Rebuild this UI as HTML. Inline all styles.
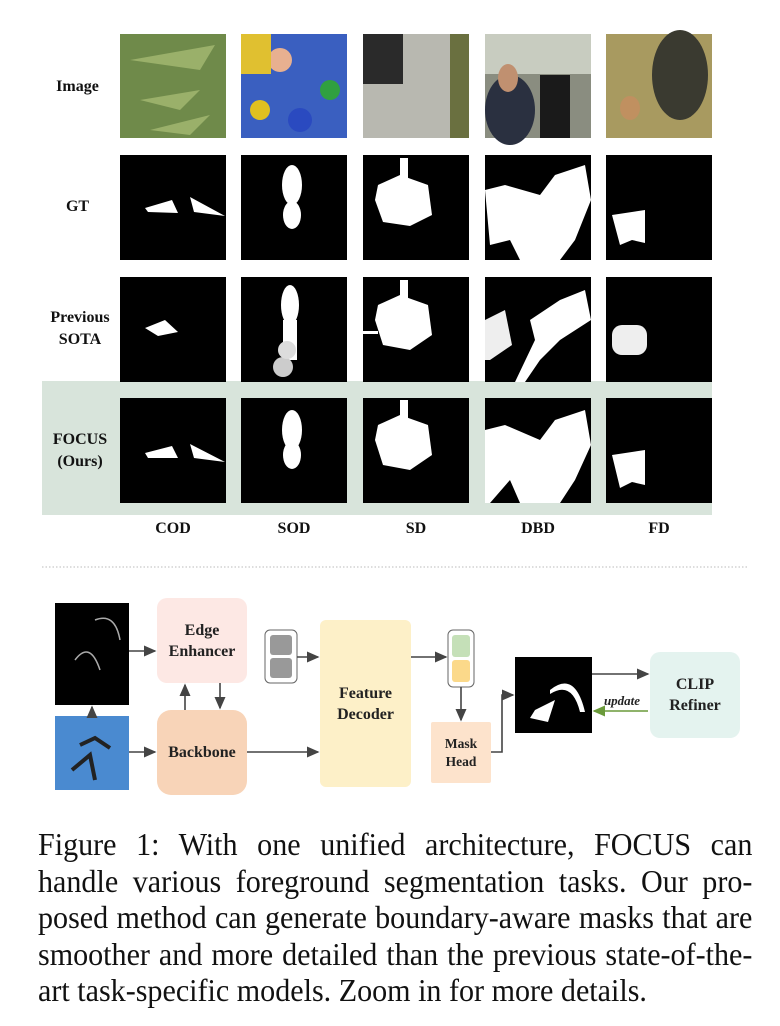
<!DOCTYPE html>
<html><head><meta charset="utf-8"><style>
body{margin:0;background:#fff;width:780px;height:1026px;position:relative;overflow:hidden;font-family:"Liberation Serif",serif}
.a{position:absolute}
.lbl{position:absolute;font-weight:bold;font-size:16px;text-align:center;color:#111;line-height:22px}
.bx{position:absolute;display:flex;align-items:center;justify-content:center;text-align:center;font-weight:bold;font-size:16px;line-height:21px;color:#222;border-radius:10px}
.cap{position:absolute;left:38px;top:826px;width:760px;transform:scaleX(0.94);transform-origin:0 0;font-size:32px;line-height:36.5px;color:#111}
.cap div{text-align:justify;text-align-last:justify;height:36.5px;white-space:nowrap}
.cap div.l{text-align-last:left}
</style></head><body>
<div class="a" style="left:42px;top:381px;width:670px;height:134px;background:#d8e4db"></div>
<div class="lbl" style="left:40px;top:76px;width:75px">Image</div>
<div class="lbl" style="left:40px;top:196px;width:75px">GT</div>
<div class="lbl" style="left:40px;top:307px;width:80px">Previous<br>SOTA</div>
<div class="lbl" style="left:40px;top:429px;width:80px">FOCUS<br>(Ours)</div>
<svg class="a" style="left:0;top:0" width="780" height="1026">
<defs><marker id="ar" markerWidth="8" markerHeight="8" refX="7" refY="4" orient="auto"><path d="M0,0.5 L8,4 L0,7.5 z" fill="#444"/></marker>
<marker id="ag" markerWidth="8" markerHeight="8" refX="7" refY="4" orient="auto"><path d="M0,0.5 L8,4 L0,7.5 z" fill="#6a9a3a"/></marker></defs>
<rect x="120" y="34" width="106" height="104" fill="#6f8a4a"/>
<path d="M130,60 L215,45 L200,70Z M140,100 L200,90 L180,110Z M150,130 L210,115 L190,135Z" fill="#9ab06a"/>
<rect x="241" y="34" width="106" height="104" fill="#3a5fc0"/>
<circle cx="260" cy="110" r="10" fill="#e0c020"/><circle cx="300" cy="120" r="12" fill="#2a4ac0"/><circle cx="330" cy="90" r="10" fill="#30a040"/><circle cx="280" cy="60" r="12" fill="#e8b090"/><rect x="241" y="34" width="30" height="40" fill="#e0c030"/>
<rect x="363" y="34" width="106" height="104" fill="#b8b8b0"/><rect x="363" y="34" width="40" height="50" fill="#2a2a2a"/><rect x="450" y="34" width="19" height="104" fill="#6a7040"/>
<rect x="485" y="34" width="106" height="104" fill="#8a8d80"/><rect x="485" y="34" width="106" height="40" fill="#c8ccc0"/><ellipse cx="510" cy="110" rx="25" ry="35" fill="#2a3040"/><rect x="540" y="75" width="30" height="63" fill="#1a1a1a"/><ellipse cx="508" cy="78" rx="10" ry="14" fill="#c09070"/>
<rect x="606" y="34" width="106" height="104" fill="#a89a60"/><ellipse cx="680" cy="75" rx="28" ry="45" fill="#3a3a30"/><ellipse cx="630" cy="108" rx="10" ry="12" fill="#c09060"/>
<g fill="#000">
<rect x="120" y="155" width="106" height="105"/><rect x="241" y="155" width="106" height="105"/><rect x="363" y="155" width="106" height="105"/><rect x="485" y="155" width="106" height="105"/><rect x="606" y="155" width="106" height="105"/>
<rect x="120" y="277" width="106" height="105"/><rect x="241" y="277" width="106" height="105"/><rect x="363" y="277" width="106" height="105"/><rect x="485" y="277" width="106" height="105"/><rect x="606" y="277" width="106" height="105"/>
<rect x="120" y="398" width="106" height="105"/><rect x="241" y="398" width="106" height="105"/><rect x="363" y="398" width="106" height="105"/><rect x="485" y="398" width="106" height="105"/><rect x="606" y="398" width="106" height="105"/>
</g>
<g fill="#fff">
<path d="M145,208 L172,200 L178,213 L148,212Z M190,197 L225,216 L194,212Z"/>
<ellipse cx="292" cy="185" rx="10" ry="20"/><ellipse cx="292" cy="215" rx="9" ry="14"/>
<path d="M378,185 L400,175 L428,185 L432,215 L410,226 L383,222 L375,200Z"/><rect x="400" y="158" width="8" height="20"/>
<path d="M485,190 L505,185 L540,195 L555,175 L585,165 L591,200 L575,240 L560,260 L520,260 L510,240 L490,245Z"/>
<path d="M612,215 L645,210 L645,243 L632,240 L620,245Z"/>
<path d="M145,328 L165,320 L178,332 L158,336Z"/>
<ellipse cx="290" cy="305" rx="9" ry="20"/><rect x="283" y="320" width="14" height="40"/><circle cx="283" cy="367" r="10" fill="#ccc"/><circle cx="287" cy="350" r="9" fill="#ddd"/>
<path d="M378,305 L400,295 L428,305 L432,335 L410,350 L383,345 L375,320Z"/><rect x="400" y="280" width="8" height="20"/><rect x="363" y="331" width="15" height="3"/>
<path d="M485,320 L505,310 L512,345 L490,360 L485,360Z" fill="#eee"/><path d="M530,320 L560,300 L585,290 L591,320 L560,340 L540,360 L525,382 L515,382 L535,340Z"/>
<rect x="612" y="325" width="35" height="30" rx="10" fill="#eee"/>
<path d="M145,453 L172,446 L178,458 L148,458Z M190,444 L225,462 L194,458Z"/>
<ellipse cx="292" cy="430" rx="10" ry="20"/><ellipse cx="292" cy="455" rx="9" ry="14"/>
<path d="M378,425 L400,415 L428,425 L432,455 L410,470 L383,465 L375,440Z"/><rect x="400" y="400" width="8" height="20"/>
<path d="M485,430 L505,425 L540,440 L555,420 L585,410 L591,445 L575,480 L560,503 L520,503 L510,480 L490,503 L485,503Z"/>
<path d="M612,455 L645,450 L645,485 L632,482 L620,488Z"/>
</g>
<line x1="42" y1="567" x2="748" y2="567" stroke="#bbb" stroke-dasharray="1.5,2"/>
<rect x="55" y="603" width="74" height="102" fill="#000"/>
<path d="M75,660 Q90,640 100,670 M95,620 Q115,612 120,640" stroke="#aaa" fill="none" stroke-width="1.5"/>
<rect x="55" y="716" width="74" height="74" fill="#4a8ad0"/>
<path d="M80,745 L95,738 L110,748 M72,770 L90,755 L95,780" stroke="#222" stroke-width="4" fill="none"/>
<rect x="265" y="630" width="32" height="53" rx="5" fill="#fff" stroke="#666"/>
<rect x="270" y="635" width="22" height="20" rx="3" fill="#999"/><rect x="270" y="658" width="22" height="20" rx="3" fill="#999"/>
<rect x="448" y="630" width="26" height="57" rx="5" fill="#fff" stroke="#666"/>
<rect x="452" y="635" width="18" height="22" rx="3" fill="#c5e0b8"/><rect x="452" y="660" width="18" height="22" rx="3" fill="#fbd98a"/>
<rect x="515" y="657" width="77" height="76" fill="#000"/>
<path d="M550,690 Q575,670 585,712 L580,712 Q572,680 550,694Z M535,710 L555,700 L548,722 L530,718Z" fill="#fff"/>
<g stroke="#444" stroke-width="1.6" fill="none" marker-end="url(#ar)">
<line x1="129" y1="651" x2="155" y2="651"/>
<line x1="129" y1="752" x2="155" y2="752"/>
<line x1="92" y1="716" x2="92" y2="707"/>
<line x1="185" y1="710" x2="185" y2="685"/>
<line x1="220" y1="683" x2="220" y2="708"/>
<line x1="297" y1="657" x2="318" y2="657"/>
<line x1="247" y1="752" x2="318" y2="752"/>
<line x1="411" y1="657" x2="446" y2="657"/>
<line x1="461" y1="687" x2="461" y2="720"/>
<polyline points="491,752 502,752 502,695 513,695"/>
<line x1="592" y1="674" x2="648" y2="674"/>
</g>
<line x1="648" y1="711" x2="594" y2="711" stroke="#6a9a3a" stroke-width="1.6" marker-end="url(#ag)"/>
<text x="622" y="705" font-family="Liberation Serif" font-weight="bold" font-style="italic" font-size="13" text-anchor="middle" fill="#222">update</text>
</svg>
<div class="lbl" style="left:120px;top:518px;width:106px">COD</div>
<div class="lbl" style="left:241px;top:518px;width:106px">SOD</div>
<div class="lbl" style="left:363px;top:518px;width:106px">SD</div>
<div class="lbl" style="left:485px;top:518px;width:106px">DBD</div>
<div class="lbl" style="left:606px;top:518px;width:106px">FD</div>
<div class="bx" style="left:157px;top:598px;width:90px;height:85px;background:#fde8e4">Edge<br>Enhancer</div>
<div class="bx" style="left:157px;top:710px;width:90px;height:85px;background:#f8d4b8;border-radius:14px">Backbone</div>
<div class="bx" style="left:320px;top:620px;width:91px;height:167px;background:#fdf0c8;border-radius:6px">Feature<br>Decoder</div>
<div class="bx" style="left:431px;top:722px;width:60px;height:61px;background:#fde3cc;border-radius:2px;font-size:13.5px;line-height:18px">Mask<br>Head</div>
<div class="bx" style="left:650px;top:652px;width:90px;height:86px;background:#e4f3ef">CLIP<br>Refiner</div>
<div class="cap">
<div>Figure 1: With one unified architecture, FOCUS can</div>
<div>handle various foreground segmentation tasks. Our pro-</div>
<div>posed method can generate boundary-aware masks that are</div>
<div>smoother and more detailed than the previous state-of-the-</div>
<div class="l">art task-specific models. Zoom in for more details.</div>
</div>
</body></html>
